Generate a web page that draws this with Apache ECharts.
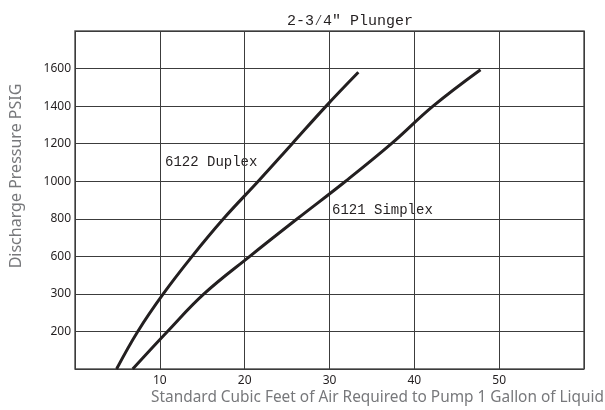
<!DOCTYPE html>
<html>
<head>
<meta charset="utf-8">
<script src="https://cdn.jsdelivr.net/npm/echarts@6/dist/echarts.min.js"></script>
<style>
  html, body { margin: 0; padding: 0; background: #fff; }
  #chart { width: 605px; height: 410px; }
</style>
</head>
<body>
<div id="chart"></div>
<script>
// y axis is drawn in grid steps; each step carries one printed pressure label
const pressureLabels = ['', '200', '300', '600', '800', '1000', '1200', '1400', '1600', '']
const airTicks = [10, 20, 30, 40, 50]

// points: [cubic feet of air, grid step]
const duplexAir = [4.9, 7.4, 10.4, 13.8, 17.5, 21.6, 25.6, 29.6, 33.4]
const duplexStep = [0, 1, 2, 3, 4, 5, 6, 7, 7.9]
const simplexAir = [6.8, 10.9, 15.2, 20.6, 26.2, 31.9, 37.3, 42.2, 47.8]
const simplexStep = [0, 1, 2, 3, 4, 5, 6, 7, 7.97]

const ink = '#231f20'
const gridInk = '#3c3c3c'
const nameGray = '#77787b'

const chart = echarts.init(document.getElementById('chart'))

function pairs(xs, ys) {
  return xs.map((x, i) => [x, ys[i]])
}

const option = {
  animation: false,
  title: {
    text: '2-3\u20444" Plunger',
    left: 345,
    top: 9,
    textAlign: 'center',
    textStyle: { fontFamily: 'Liberation Mono', fontSize: 15, fontWeight: 'normal', color: ink }
  },
  grid: {
    left: 75, right: 21, top: 31, bottom: 41,
    show: true, borderColor: '#555', borderWidth: 1.5, backgroundColor: 'transparent'
  },
  xAxis: {
    type: 'value',
    min: 0,
    max: 60,
    interval: 10,
    axisLine: { show: false },
    axisTick: { show: false },
    axisLabel: {
      color: ink,
      fontFamily: 'Noto Sans',
      fontSize: 12,
      margin: 6,
      formatter: (v) => (airTicks.includes(v) ? String(v) : '')
    },
    splitLine: { show: true, lineStyle: { color: gridInk, width: 1 } }
  },
  yAxis: {
    type: 'value',
    min: 0,
    max: 9,
    interval: 1,
    axisLine: { show: false },
    axisTick: { show: false },
    axisLabel: {
      color: ink,
      fontFamily: 'Noto Sans',
      fontSize: 12,
      margin: 4,
      formatter: (v) => pressureLabels[v] || ''
    },
    splitLine: { show: true, lineStyle: { color: gridInk, width: 1 } }
  },
  graphic: [
    {
      type: 'text',
      x: 16, y: 176,
      rotation: Math.PI / 2,
      style: {
        text: 'Discharge Pressure PSIG',
        fill: nameGray,
        font: '16px "Noto Sans"',
        align: 'center',
        verticalAlign: 'middle'
      }
    },
    {
      type: 'text',
      x: 604, y: 398,
      style: {
        text: 'Standard Cubic Feet of Air Required to Pump 1 Gallon of Liquid',
        fill: nameGray,
        font: '15.4px "Noto Sans"',
        align: 'right',
        verticalAlign: 'middle'
      }
    },
    {
      type: 'text',
      x: 165, y: 162,
      style: {
        text: '6122 Duplex',
        fill: ink,
        font: '14px "Liberation Mono"',
        align: 'left',
        verticalAlign: 'middle'
      }
    },
    {
      type: 'text',
      x: 332, y: 210,
      style: {
        text: '6121 Simplex',
        fill: ink,
        font: '14px "Liberation Mono"',
        align: 'left',
        verticalAlign: 'middle'
      }
    }
  ],
  series: [
    {
      name: '6122 Duplex',
      type: 'line',
      data: pairs(duplexAir, duplexStep),
      smooth: 0.4,
      showSymbol: false,
      lineStyle: { color: ink, width: 3 }
    },
    {
      name: '6121 Simplex',
      type: 'line',
      data: pairs(simplexAir, simplexStep),
      smooth: 0.4,
      showSymbol: false,
      lineStyle: { color: ink, width: 3 }
    }
  ]
}

chart.setOption(option)
</script>
</body>
</html>
